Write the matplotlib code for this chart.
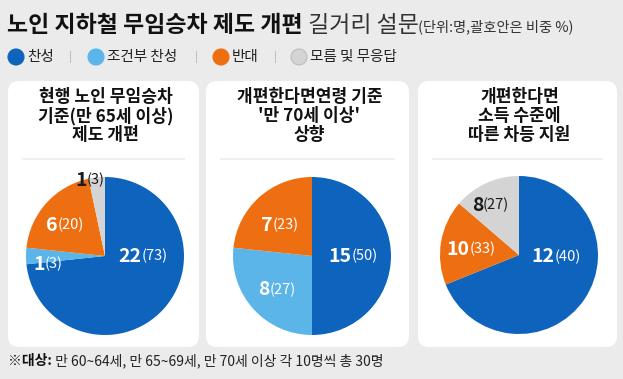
import matplotlib

matplotlib.use("Agg")
import matplotlib.pyplot as plt
from matplotlib.patches import FancyBboxPatch, Circle

plt.rcParams["font.family"] = ["Noto Sans CJK KR", "DejaVu Sans"]

# ---- data ----
categories = ["찬성", "조건부 찬성", "반대", "모름 및 무응답"]
panel_titles = [
    "현행 노인 무임승차\n기준(만 65세 이상)\n제도 개편",
    "개편한다면연령 기준\n'만 70세 이상'\n상향",
    "개편한다면\n소득 수준에\n따른 차등 지원",
]
# labelled values: head count and share (%)
counts = [
    [22, 1, 6, 1],
    [15, 8, 7, 0],
    [12, 0, 10, 8],
]
shares = [
    [73, 3, 20, 3],
    [50, 27, 23, 0],
    [40, 0, 33, 27],
]
# slice sizes as drawn in the source graphic (third pie is not drawn to scale there)
slice_sizes = [
    [22, 1, 6, 1],
    [15, 8, 7, 0],
    [68.9, 0, 17.4, 13.7],
]

title_bold = "노인 지하철 무임승차 제도 개편"
title_light = "길거리 설문"
title_unit = "(단위:명,괄호안은 비중 %)"
foot_bold = "※대상:"
foot_text = " 만 60~64세, 만 65~69세, 만 70세 이상 각 10명씩 총 30명"

# ---- style ----
colors = ["#0e64bd", "#5bb5e8", "#ee6f12", "#d4d4d4"]
text_colors = ["white", "white", "white", "#1a1a1a"]
W, H = 623, 379
panels_x = [(8, 199), (206, 409), (418, 617)]
panel_top, panel_bot = 81, 347
pie_centers = [(105, 256), (312, 256), (519, 255)]
pie_r = 79
# label anchor in pie units (radius = 1), one per slice
label_pos = [
    [(0.48, -0.01), (-0.72, -0.11), (-0.51, 0.39), (-0.19, 0.96)],
    [(0.52, -0.01), (-0.44, -0.43), (-0.41, 0.39), None],
    [(0.475, -0.025), None, (-0.61, 0.075), (-0.36, 0.625)],
]

fig = plt.figure(figsize=(W / 100, H / 100), dpi=100)
fig.patch.set_facecolor("#ebebeb")

bg = fig.add_axes([0, 0, 1, 1])
bg.set_xlim(0, W)
bg.set_ylim(H, 0)
bg.axis("off")

# header
t1 = bg.text(7, 25, title_bold, fontsize=16.5, fontweight="bold", color="#111111", va="center")
fig.canvas.draw()
t2 = bg.annotate(" " + title_light, xy=(1, 0), xycoords=t1, fontsize=16.5,
                 color="#333333", va="bottom")
bg.annotate(title_unit, xy=(1, 0.1), xycoords=t2, fontsize=10.3,
            color="#333333", va="bottom")

# legend row
legend_x = [16, 96, 221, 299]
sep_x = [70, 196, 275]
for lx, lab, col in zip(legend_x, categories, colors):
    bg.add_patch(Circle((lx, 57), 8, facecolor=col,
                        edgecolor="#bdbdbd" if col == colors[3] else col, lw=0.8))
    bg.text(lx + 11, 57, lab, fontsize=10.5, color="#222222", va="center")
for sx in sep_x:
    bg.text(sx, 57, "|", fontsize=8, color="#b0b0b0", va="center", ha="center")

# panels
for (x0, x1), ttl in zip(panels_x, panel_titles):
    bg.add_patch(FancyBboxPatch((x0, panel_top), x1 - x0, panel_bot - panel_top,
                                boxstyle="round,pad=0,rounding_size=11",
                                facecolor="white", edgecolor="none"))
    bg.text((x0 + x1) / 2 + 2, 116, ttl, fontsize=12.3, fontweight="bold",
            color="#111111", ha="center", va="center", linespacing=1.08)
    bg.plot([x0 + 15, x1 - 15], [159, 159], color="#ececec", lw=1.2)

# footnote
f1 = bg.text(8, 361, foot_bold, fontsize=10, fontweight="bold", color="#111111", va="center")
fig.canvas.draw()
bg.annotate(foot_text, xy=(1, 0), xycoords=f1, fontsize=10, color="#222222", va="bottom")

# pies
renderer = fig.canvas.get_renderer()
for i, (cx, cy) in enumerate(pie_centers):
    ax = fig.add_axes([(cx - pie_r) / W, 1 - (cy + pie_r) / H, 2 * pie_r / W, 2 * pie_r / H])
    ax.pie(slice_sizes[i], colors=colors, startangle=90, counterclock=False,
           radius=1, wedgeprops=dict(linewidth=0))
    ax.set_xlim(-1, 1)
    ax.set_ylim(-1, 1)
    ax.set_aspect("equal")
    for j, pos in enumerate(label_pos[i]):
        if pos is None or counts[i][j] == 0:
            continue
        num = ax.text(pos[0], pos[1], str(counts[i][j]), fontsize=14, fontweight="bold",
                      color=text_colors[j], ha="left", va="center")
        pct = ax.annotate(f"({shares[i][j]})", xy=(1, 0.14), xycoords=num,
                          fontsize=10.5, color=text_colors[j], va="bottom")
        fig.canvas.draw()
        w = num.get_window_extent(renderer).width + pct.get_window_extent(renderer).width
        inv = ax.transData.inverted()
        x_disp = ax.transData.transform((pos[0], pos[1]))
        num.set_position(inv.transform((x_disp[0] - w / 2, x_disp[1])))

fig.savefig("out.png", dpi=100, facecolor=fig.get_facecolor())
